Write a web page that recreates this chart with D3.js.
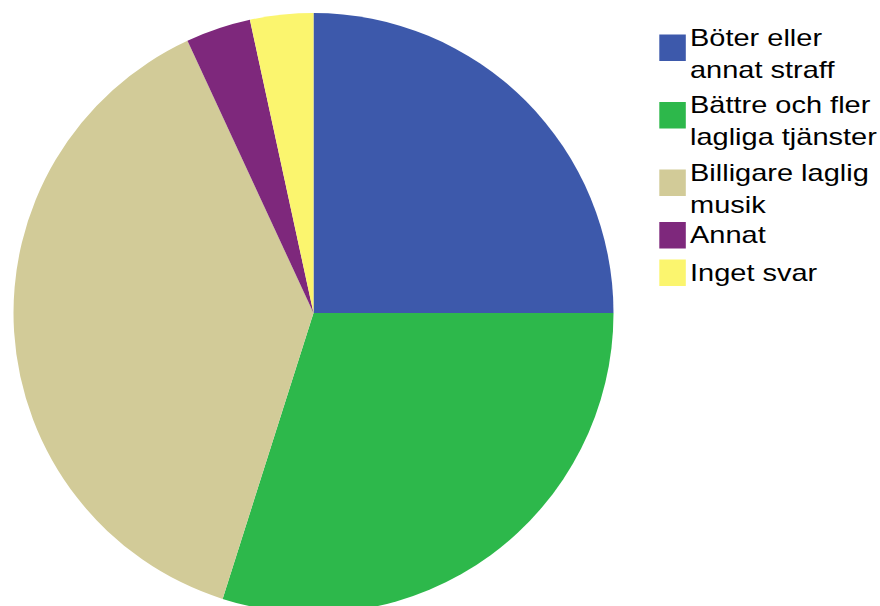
<!DOCTYPE html>
<html>
<head>
<meta charset="utf-8">
<script src="https://cdn.jsdelivr.net/npm/d3@7"></script>
<style>
  html, body { margin: 0; padding: 0; background: #fff; }
  svg { display: block; }
  text { font-family: "Liberation Sans", Arial, sans-serif; }
</style>
</head>
<body>
<svg id="chart" width="880" height="606"></svg>
<script>
// Survey answers (percent of respondents)
const categories = [
  "Böter eller annat straff",
  "Bättre och fler lagliga tjänster",
  "Billigare laglig musik",
  "Annat",
  "Inget svar"
];
const values = [25, 29.9, 38.2, 3.5, 3.4];
// Legend text, wrapped as displayed
const legendLines = [
  ["Böter eller", "annat straff"],
  ["Bättre och fler", "lagliga tjänster"],
  ["Billigare laglig", "musik"],
  ["Annat"],
  ["Inget svar"]
];
const colors = ["#3d59ab", "#2db84b", "#d2cb98", "#7e287c", "#fbf56e"];

const svg = d3.select("#chart");
const cx = 313.5, cy = 313, radius = 300;

const data = categories.map((c, i) => ({ name: c, value: values[i], color: colors[i], lines: legendLines[i] }));

const pie = d3.pie().sort(null).value(d => d.value).startAngle(0).endAngle(2 * Math.PI);
const arc = d3.arc().innerRadius(0).outerRadius(radius);

svg.append("g")
  .attr("transform", `translate(${cx},${cy})`)
  .selectAll("path")
  .data(pie(data))
  .join("path")
  .attr("d", arc)
  .attr("fill", d => d.data.color);

// Legend
const legend = svg.append("g");
const lineH = 30, gap = 7.5, sq = 26.5, sqX = 659.3, textX = 690, sx = 1.26;
let y = 14;
data.forEach(d => {
  const n = d.lines.length;
  const h = n * lineH + gap;
  legend.append("rect")
    .attr("x", sqX).attr("y", y + (h - sq) / 2)
    .attr("width", sq).attr("height", sq)
    .attr("fill", d.color);
  const first = n === 1 ? 27 : 32;
  const g = legend.append("g").attr("transform", `translate(${textX},0) scale(${sx},1)`);
  d.lines.forEach((t, j) => {
    g.append("text")
      .attr("x", 0)
      .attr("y", y + first + j * 32)
      .attr("font-size", 23)
      .attr("fill", "#000")
      .text(t);
  });
  y += h;
});
</script>
</body>
</html>
